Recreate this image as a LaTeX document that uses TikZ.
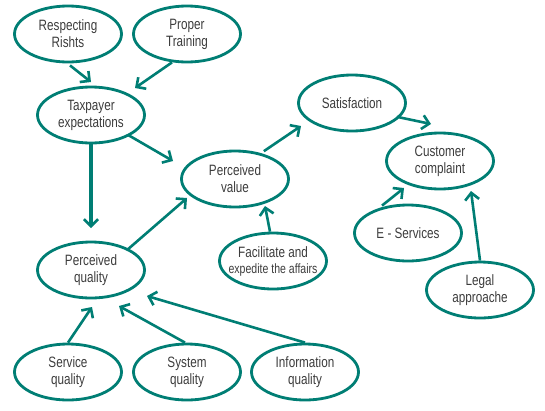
\documentclass[tikz,border=0pt]{standalone}
\usepackage{fontspec}
\setmainfont[FakeStretch=0.78]{Liberation Sans}
\usetikzlibrary{arrows.meta,shapes.geometric}
\definecolor{teal1}{RGB}{0,126,116}
\definecolor{txt}{RGB}{60,60,60}
\newcommand{\zb}[1]{\makebox[0pt]{#1}}
\begin{document}
\begin{tikzpicture}[x=1pt,y=-1pt,
  oval/.style={draw=teal1,line width=2.8pt,ellipse,minimum width=107pt,minimum height=56pt,inner sep=0pt,
    align=center,text=txt,font=\fontsize{15}{17}\selectfont},
  conn/.style={draw=teal1,line width=2.6pt,-{Straight Barb[length=7pt,width=14pt,line width=2.6pt]}},
]
\useasboundingbox (0,0) rectangle (545,410);
\node[oval] (rr) at (68,34) {\zb{Respecting}\\\zb{Rishts}};
\node[oval] (pt) at (187,34) {\zb{Proper}\\\zb{Training}};
\node[oval] (te) at (91,115) {\zb{Taxpayer}\\\zb{expectations}};
\node[oval] (pv) at (235,179) {\zb{Perceived}\\\zb{value}};
\node[oval] (sa) at (352,103) {\zb{Satisfaction}};
\node[oval] (cc) at (440,161) {\zb{Customer}\\\zb{complaint}};
\node[oval] (es) at (408,233) {\zb{E - Services}};
\node[oval] (la) at (480,290) {\zb{Legal}\\\zb{approache}};
\node[oval] (fe) at (273,261) {\zb{Facilitate and}\\[-1pt]\zb{\fontsize{13.5}{15}\selectfont expedite the affairs}};
\node[oval] (pq) at (91,270) {\zb{Perceived}\\\zb{quality}};
\node[oval] (sq) at (68,372) {\zb{Service}\\\zb{quality}};
\node[oval] (yq) at (187,372) {\zb{System}\\\zb{quality}};
\node[oval] (iq) at (305,372) {\zb{Information}\\\zb{quality}};

\coordinate (a1) at (91,82);
\coordinate (a2) at (135,88);
\coordinate (a3) at (173,161);
\coordinate (a4) at (91,228);
\coordinate (a5) at (187,198);
\coordinate (a6) at (301,126);
\coordinate (a7) at (431,124);
\coordinate (a8) at (404,188);
\coordinate (a9) at (471,191);
\coordinate (a10) at (265,206);
\coordinate (a11) at (92,307);
\coordinate (a12) at (119,306);
\coordinate (a13) at (147,296);

\draw[conn] (rr.south) ++(2,2) -- (a1);
\draw[conn] (pt.south) ++(-15,-1) -- (a2);
\draw[conn] (te.south east) ++(-2,-1) -- (a3);
\draw[conn,line width=3.2pt] (te.south) -- (a4);
\draw[conn] (pq.north east) ++(-3,1) -- (a5);
\draw[conn] (pv.north east) ++(-10,-7) -- (a6);
\draw[conn] (sa.south east) ++(6,-7) -- (a7);
\draw[conn] (es.north) ++(-26,2) -- (a8);
\draw[conn] (la.north) -- (a9);
\draw[conn] (fe.north) ++(-3,0) -- (a10);
\draw[conn] (sq.north) ++(0,0) -- (a11);
\draw[conn] (yq.north) ++(-2,0) -- (a12);
\draw[conn] (iq.north) -- (a13);
\end{tikzpicture}
\end{document}
